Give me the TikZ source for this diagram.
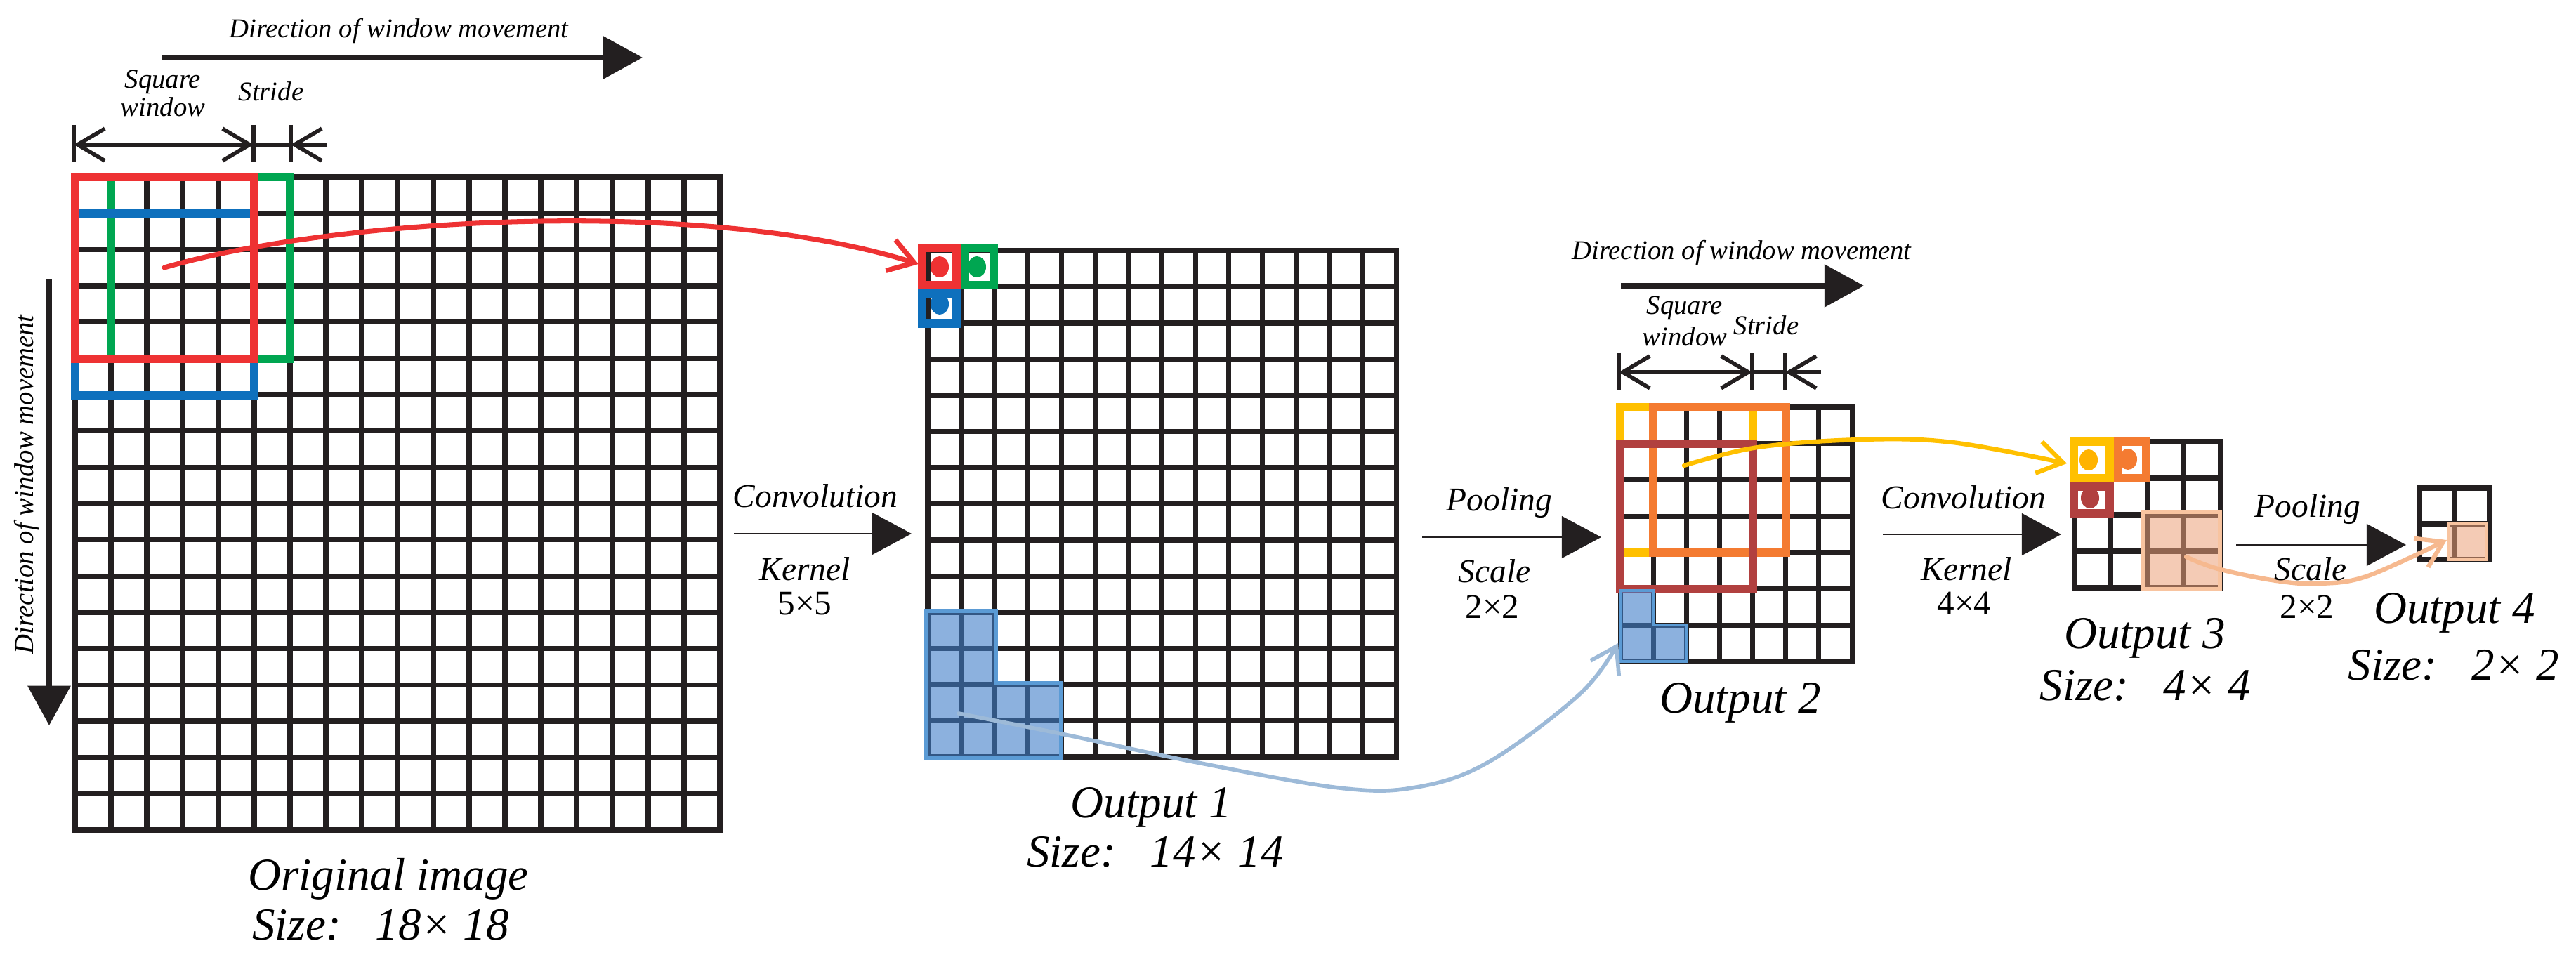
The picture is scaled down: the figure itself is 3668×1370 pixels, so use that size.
\documentclass[tikz,border=0pt]{standalone}
\usepackage{fontspec}
\setmainfont{Liberation Serif}
\newfontfamily\lserif{Liberation Serif}
\usetikzlibrary{arrows.meta}
\definecolor{gridc}{HTML}{231F20}
\definecolor{wred}{HTML}{EE3233}
\definecolor{wgreen}{HTML}{00A651}
\definecolor{wblue}{HTML}{0E70BD}
\definecolor{lbluef}{HTML}{3F7DC8}
\definecolor{lblueb}{HTML}{5B9BD5}
\definecolor{lbluec}{HTML}{9DBAD8}
\definecolor{wyellow}{HTML}{FFC000}
\definecolor{worange}{HTML}{F47B31}
\definecolor{wdred}{HTML}{B1403F}
\definecolor{peachf}{HTML}{EBA078}
\definecolor{peachb}{HTML}{F8C4A0}
\definecolor{peachc}{HTML}{F6B98F}
\newcommand\mygrid[6]{%
  \foreach \k in {0,...,#5}{\draw[gridline] ({#1+(#3-#1)/#5*\k},#2) -- ({#1+(#3-#1)/#5*\k},#4);}
  \foreach \k in {0,...,#6}{\draw[gridline] (#1,{#2+(#4-#2)/#6*\k}) -- (#3,{#2+(#4-#2)/#6*\k});}
}
\tikzset{
  gridline/.style={line width=2pt, draw=gridc, line cap=rect},
  winbox/.style={line width=3.2pt, line join=miter},
  cellbox/.style={line width=3.4pt, line join=miter},
  lbl/.style={font=\lserif\fontsize{18.5}{20}\selectfont\itshape, inner sep=0pt, anchor=base},
  oplbl/.style={font=\lserif\fontsize{13.5}{15}\selectfont\itshape, inner sep=0pt, anchor=base},
  opnum/.style={font=\lserif\fontsize{14}{15}\selectfont, inner sep=0pt, anchor=base},
  dirlbl/.style={font=\lserif\fontsize{11}{13}\selectfont\itshape, inner sep=0pt, anchor=base},
  oparrow/.style={draw=gridc, line width=0.75pt, -{Triangle[length=16pt,width=17pt]}},
  dirarrow/.style={draw=gridc, line width=2pt, -{Triangle[length=16pt,width=17pt]}},
  dimline/.style={draw=gridc, line width=1.6pt},
  dimtip/.style={draw=gridc, line width=1.6pt, -{Straight Barb[length=11pt,width=13pt]}},
  flow/.style={line width=2pt, -{Straight Barb[length=10pt,width=13pt]}, line cap=round, line join=round}
}
\begin{document}
\begin{tikzpicture}[x=0.01cm,y=-0.01cm]
\useasboundingbox (0,0) rectangle (3668,1370);

% ---------- grids ----------
\mygrid{107}{252}{1025}{1182}{18}{18}
\mygrid{1321}{357}{1988}{1078}{14}{14}
\mygrid{2307}{580}{2637}{942}{7}{7}
\mygrid{2953}{629}{3161}{837}{4}{4}
\mygrid{3445}{695}{3544}{797}{2}{2}

% ---------- windows on original image ----------
\draw[winbox, wgreen] (158,252) rectangle (413,511);
\draw[winbox, wblue] (107,304) rectangle (362,563);
\draw[winbox, wred] (107,252) rectangle (362,511);

% ---------- output 1 cells ----------
\draw[cellbox, wred] (1313,353) rectangle (1362,406);
\draw[cellbox, wgreen] (1374,353) rectangle (1415,406);
\draw[cellbox, wblue] (1313,418) rectangle (1362,461);
\fill[wred] (1338,380) ellipse [x radius=0.13cm, y radius=0.15cm];
\fill[wgreen] (1391,380) ellipse [x radius=0.13cm, y radius=0.15cm];
\fill[wblue] (1338,433) ellipse [x radius=0.13cm, y radius=0.15cm];
\fill[lbluef, fill opacity=0.6] (1321,872) -- (1416,872) -- (1416,975) -- (1511,975) -- (1511,1078) -- (1321,1078) -- cycle;
\draw[lblueb, line width=1.6pt] (1319,870) -- (1418,870) -- (1418,973) -- (1511,973) -- (1511,1080) -- (1319,1080) -- cycle;

% ---------- output 2 windows ----------
\draw[winbox, wyellow] (2307,580) rectangle (2496,787);
\draw[winbox, worange] (2354,580) rectangle (2543,787);
\draw[winbox, wdred] (2307,632) rectangle (2496,839);
\fill[lbluef, fill opacity=0.6] (2307,839) -- (2354,839) -- (2354,890) -- (2401,890) -- (2401,942) -- (2307,942) -- cycle;
\draw[lblueb, line width=1.4pt] (2307,841) -- (2354,841) -- (2354,890) -- (2401,890) -- (2401,942) -- (2307,942) -- cycle;

% ---------- output 3 cells ----------
\draw[cellbox, wyellow] (2953,629) rectangle (3004,681);
\draw[cellbox, worange] (3016,629) rectangle (3056,681);
\draw[cellbox, wdred] (2953,693) rectangle (3004,731);
\fill[wyellow!80!orange] (2974,655) ellipse [x radius=0.13cm, y radius=0.15cm];
\fill[worange] (3030,654) ellipse [x radius=0.13cm, y radius=0.15cm];
\fill[wdred] (2976,709) ellipse [x radius=0.13cm, y radius=0.15cm];
\fill[peachf, fill opacity=0.55] (3052,729) rectangle (3161,839);
\draw[peachb, line width=1.6pt] (3052,729) rectangle (3161,839);

% ---------- output 4 cell ----------
\fill[peachf, fill opacity=0.55] (3486,745) rectangle (3540,797);
\draw[peachb, line width=1.4pt] (3486,745) rectangle (3540,797);

% ---------- flow curves ----------
\coordinate (r0) at (234,381); \coordinate (r4) at (1308,376);
\draw[flow, wred] (r0) .. controls (480,310) and (1000,280) .. (r4);

\coordinate (b0) at (1365,1016); \coordinate (b1) at (1511,1045); \coordinate (b2) at (1700,1085);
\coordinate (b3) at (1907,1122); \coordinate (b4) at (2017,1121); \coordinate (b5) at (2120,1085);
\coordinate (b6) at (2250,988); \coordinate (b7) at (2304,916);
\draw[flow, lbluec, line width=1.6pt] plot[smooth, tension=0.6] coordinates {(b0) (b1) (b2) (b3) (b4) (b5) (b6) (b7)};

\coordinate (y0) at (2398,663); \coordinate (y1) at (2503,637); \coordinate (y2) at (2650,626);
\coordinate (y3) at (2780,630); \coordinate (y4) at (2943,660);
\draw[flow, wyellow, line width=1.8pt] plot[smooth, tension=0.6] coordinates {(y0) (y1) (y2) (y3) (y4)};

\coordinate (p0) at (3113,793); \coordinate (p1) at (3158,810); \coordinate (p2) at (3241,827);
\coordinate (p3) at (3304,831); \coordinate (p4) at (3372,820); \coordinate (p5) at (3484,769);
\draw[flow, peachc, line width=1.8pt] plot[smooth, tension=0.6] coordinates {(p0) (p1) (p2) (p3) (p4) (p5)};

% ---------- direction arrows (original) ----------
\node[dirlbl] (dirA) at (568,54) {Direction of window movement};
\coordinate (dA0) at (231,82); \coordinate (dA1) at (915,82);
\draw[dirarrow] (dA0) -- (dA1);
\node[dirlbl, rotate=90, anchor=center] (dirV) at (38,690) {Direction of window movement};
\coordinate (dV0) at (70,398); \coordinate (dV1) at (70,1033);
\draw[dirarrow] (dV0) -- (dV1);
\node[dirlbl] (sqA1) at (232,126) {Square};
\node[dirlbl] (sqA2) at (232,166) {window};
\node[dirlbl] (stA) at (386,144) {Stride};
\coordinate (mA0) at (105,206); \coordinate (mA1) at (361,206); \coordinate (mA2) at (414,206); \coordinate (mA3) at (466,206);
\draw[dimline] (105,178) -- (105,230) (361,178) -- (361,230) (414,178) -- (414,230);
\draw[dimtip, {Straight Barb[length=11pt,width=13pt]}-{Straight Barb[length=11pt,width=13pt]}] (mA0) -- (mA1);
\draw[dimline] (mA1) -- (mA2);
\draw[dimtip] (mA3) -- (mA2);

% ---------- direction arrows (output 2) ----------
\node[dirlbl] (dirB) at (2480,370) {Direction of window movement};
\coordinate (dB0) at (2308,407); \coordinate (dB1) at (2654,407);
\draw[dirarrow] (dB0) -- (dB1);
\node[dirlbl] (sqB1) at (2399,448) {Square};
\node[dirlbl] (sqB2) at (2399,493) {window};
\node[dirlbl] (stB) at (2515,477) {Stride};
\coordinate (mB0) at (2305,530); \coordinate (mB1) at (2495,530); \coordinate (mB2) at (2542,530); \coordinate (mB3) at (2593,530);
\draw[dimline] (2305,503) -- (2305,555) (2495,503) -- (2495,555) (2542,503) -- (2542,555);
\draw[dimtip, {Straight Barb[length=11pt,width=13pt]}-{Straight Barb[length=11pt,width=13pt]}] (mB0) -- (mB1);
\draw[dimline] (mB1) -- (mB2);
\draw[dimtip] (mB3) -- (mB2);

% ---------- operation arrows ----------
\node[oplbl] (c1) at (1161,723) {Convolution};
\coordinate (c1a) at (1045,760); \coordinate (c1b) at (1298,760);
\draw[oparrow] (c1a) -- (c1b);
\node[oplbl] (k1) at (1146,827) {Kernel};
\node[opnum] (k1n) at (1146,876) {5×5};

\node[oplbl] (pl1) at (2135,728) {Pooling};
\coordinate (p1a) at (2025,765); \coordinate (p1b) at (2280,765);
\draw[oparrow] (p1a) -- (p1b);
\node[oplbl] (s1) at (2128,830) {Scale};
\node[opnum] (s1n) at (2125,880) {2×2};

\node[oplbl] (c2) at (2796,725) {Convolution};
\coordinate (c2a) at (2681,761); \coordinate (c2b) at (2935,761);
\draw[oparrow] (c2a) -- (c2b);
\node[oplbl] (k2) at (2800,827) {Kernel};
\node[opnum] (k2n) at (2797,876) {4×4};

\node[oplbl] (pl2) at (3286,736) {Pooling};
\coordinate (p2a) at (3184,776); \coordinate (p2b) at (3426,776);
\draw[oparrow] (p2a) -- (p2b);
\node[oplbl] (s2) at (3290,827) {Scale};
\node[opnum] (s2n) at (3285,880) {2×2};

% ---------- labels ----------
\node[lbl] (o0a) at (553,1267) {Original image};
\node[lbl] (o0b) at (542,1338) {Size:\hspace{0.75em}18× 18};
\node[lbl] (o1a) at (1639,1164) {Output 1};
\node[lbl] (o1b) at (1645,1234) {Size:\hspace{0.75em}14× 14};
\node[lbl] (o2a) at (2478,1015) {Output 2};
\node[lbl] (o3a) at (3054,923) {Output 3};
\node[lbl] (o3b) at (3055,997) {Size:\hspace{0.75em}4× 4};
\node[lbl] (o4a) at (3495,887) {Output 4};
\node[lbl] (o4b) at (3494,968) {Size:\hspace{0.75em}2× 2};
\end{tikzpicture}
\end{document}
